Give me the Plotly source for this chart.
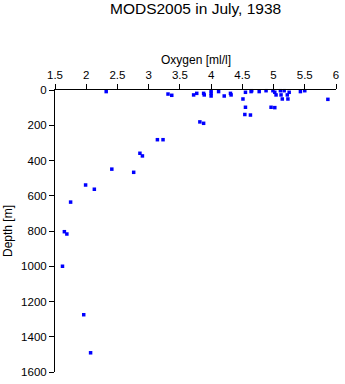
import plotly.graph_objects as go

# Oxygen (ml/l) and depth (m) of each observation
oxygen = [
    2.32, 3.31, 3.37, 3.72, 3.77, 3.88, 3.89, 4.00, 4.00, 4.00,
    4.12, 4.21, 4.31, 4.32, 4.51, 4.55, 4.55, 4.54, 4.63, 4.64,
    4.65, 4.77, 4.88, 4.96, 5.02, 4.99, 5.02, 5.04, 5.11, 5.17,
    5.12, 5.14, 5.22, 5.23, 5.25, 5.43, 5.50, 5.87,
    3.82, 3.88, 3.14, 3.23, 2.86, 2.90, 2.41, 2.76, 1.99, 2.13,
    1.75, 1.65, 1.69, 1.62, 1.96, 2.07,
]
depth = [
    9, 23, 30, 28, 19, 19, 28, 4, 19, 34,
    9, 34, 19, 28, 51, 13, 98, 139, 142, 9,
    4, 9, 4, 98, 100, 4, 13, 28, 4, 4,
    28, 51, 28, 51, 13, 9, 4, 53,
    181, 189, 282, 282, 359, 374, 449, 467, 539, 563,
    636, 804, 817, 1000, 1275, 1491,
]

x_ticks = [1.5, 2, 2.5, 3, 3.5, 4, 4.5, 5, 5.5, 6]
y_ticks = [0, 200, 400, 600, 800, 1000, 1200, 1400, 1600]

FONT = "Liberation Sans, Arial, sans-serif"

fig = go.Figure(
    go.Scatter(
        x=oxygen,
        y=depth,
        mode="markers",
        marker=dict(symbol="square", size=3.5, color="#0000ff", line=dict(width=0)),
        cliponaxis=False,
        hoverinfo="x+y",
    )
)

fig.update_layout(
    width=345,
    height=384,
    margin=dict(l=55, r=6, t=90, b=9),
    paper_bgcolor="white",
    plot_bgcolor="white",
    showlegend=False,
    font=dict(family=FONT, size=11.5, color="black"),
    annotations=[
        dict(text="MODS2005 in July, 1938", xref="paper", yref="paper",
             x=0.5, y=1, yshift=82, xanchor="center", yanchor="middle",
             showarrow=False, font=dict(size=15.5, family=FONT)),
        dict(text="Oxygen [ml/l]", xref="paper", yref="paper",
             x=0.5, y=1, yshift=30, xanchor="center", yanchor="middle",
             showarrow=False, font=dict(size=12, family=FONT)),
        dict(text="Depth [m]", xref="paper", yref="paper",
             x=0, xshift=-47, y=0.5, xanchor="center", yanchor="middle",
             textangle=-90, showarrow=False, font=dict(size=12, family=FONT)),
    ],
)

fig.update_xaxes(
    side="top",
    range=[1.5, 6],
    tickvals=x_ticks,
    ticktext=[f"{v:g}" for v in x_ticks],
    ticks="outside",
    ticklen=5,
    tickcolor="black",
    showline=True,
    linecolor="black",
    linewidth=1,
    showgrid=False,
    zeroline=False,
)

fig.update_yaxes(
    range=[1600, 0],
    tickvals=y_ticks,
    ticktext=[str(v) for v in y_ticks],
    ticks="outside",
    ticklen=5,
    tickcolor="black",
    showline=True,
    linecolor="black",
    linewidth=1,
    showgrid=False,
    zeroline=False,
)

fig.write_html("out.html")
